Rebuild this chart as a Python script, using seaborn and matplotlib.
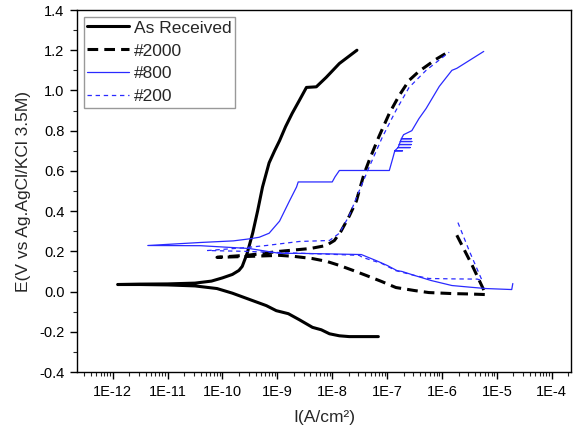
import numpy as np
import pandas as pd
import matplotlib
matplotlib.use("Agg")
import matplotlib.pyplot as plt
import seaborn as sns
from matplotlib.ticker import FixedLocator, FuncFormatter, LogLocator, MultipleLocator, NullFormatter

# polarization curves, current as log10(I / A cm^-2), potential E in V
ar_logI = [-7.16, -7.45, -7.69, -7.87, -8.05, -8.2, -8.36, -8.6, -8.8, -9.02, -9.2, -9.45,
           -9.82, -10.1, -10.5, -11.0, -11.5, -11.91,
           -11.5, -11.0, -10.5, -10.2, -10.0, -9.82, -9.7, -9.64, -9.55, -9.45, -9.36, -9.27,
           -9.15, -9.05, -8.96, -8.85, -8.73, -8.6, -8.47, -8.29, -8.11, -7.87, -7.55]
ar_E = [-0.224, -0.224, -0.224, -0.22, -0.21, -0.19, -0.178, -0.14, -0.11, -0.095, -0.07, -0.045,
        -0.008, 0.015, 0.028, 0.033, 0.035, 0.035,
        0.037, 0.038, 0.042, 0.052, 0.068, 0.085, 0.105, 0.125, 0.19, 0.29, 0.40, 0.52,
        0.64, 0.70, 0.75, 0.82, 0.886, 0.95, 1.015, 1.018, 1.065, 1.134, 1.2]

g2000_logI = [-5.73, -5.45, -5.2, -5.5, -5.82, -6.24, -6.5, -6.84, -7.1, -7.38, -7.62, -7.87,
              -8.1, -8.36, -8.7, -8.96, -9.5, -10.1,
              -9.5, -8.96, -8.4, -8.11, -7.96, -7.84, -7.69, -7.56, -7.51, -7.42, -7.33, -7.15,
              -6.96, -6.78, -6.6, -6.42, -6.29, -6.11, -5.87]
g2000_E = [0.28, 0.13, -0.015, -0.012, -0.01, -0.005, 0.005, 0.02, 0.05, 0.08, 0.105, 0.13,
           0.15, 0.164, 0.175, 0.18, 0.175, 0.17,
           0.182, 0.2, 0.214, 0.229, 0.254, 0.30, 0.375, 0.45, 0.50, 0.585, 0.65, 0.77,
           0.886, 0.975, 1.05, 1.095, 1.12, 1.155, 1.194]

g800_logI = [-4.71, -4.73, -5.2, -5.5, -5.82, -6.2, -6.5, -6.73, -6.82, -7.0, -7.2, -7.47,
             -8.0, -8.6, -8.96, -9.51, -10.4, -11.36,
             -10.4, -9.8, -9.51, -9.33, -9.15, -8.96, -8.78, -8.65, -8.62, -8.0, -7.95, -7.87,
             -6.96, -6.9, -6.86, -6.72, -6.86, -6.8, -6.58, -6.8, -6.78, -6.56, -6.78,
             -6.76, -6.55, -6.76, -6.74, -6.56, -6.74, -6.7,
             -6.55, -6.42, -6.29, -6.05, -5.82, -5.73, -5.24]
g800_E = [0.04, 0.01, 0.015, 0.022, 0.03, 0.055, 0.08, 0.1, 0.104, 0.13, 0.154, 0.184,
          0.187, 0.19, 0.19, 0.214, 0.228, 0.229,
          0.244, 0.252, 0.262, 0.27, 0.29, 0.35, 0.45, 0.52, 0.545, 0.545, 0.57, 0.602,
          0.602, 0.66, 0.70, 0.70, 0.70, 0.716, 0.716, 0.716, 0.731, 0.731, 0.731,
          0.746, 0.746, 0.746, 0.76, 0.76, 0.76, 0.78,
          0.80, 0.86, 0.91, 1.02, 1.1, 1.11, 1.194]

g200_logI = [-5.71, -5.5, -5.27, -5.36, -5.8, -6.24, -6.5, -6.84, -7.1, -7.45, -7.51, -8.0,
             -8.96, -9.6, -10.27,
             -9.6, -9.2, -8.6, -8.05, -7.87, -7.69, -7.51, -7.33, -7.09, -6.84, -6.6, -6.29, -5.87]
g200_E = [0.343, 0.2, 0.055, 0.062, 0.063, 0.065, 0.08, 0.104, 0.14, 0.17, 0.18, 0.185,
          0.194, 0.2, 0.204,
          0.218, 0.229, 0.249, 0.254, 0.29, 0.378, 0.50, 0.617, 0.766, 0.90, 1.015, 1.1, 1.19]

labels = ["As Received", "#2000", "#800", "#200"]
curves = [(ar_logI, ar_E), (g2000_logI, g2000_E), (g800_logI, g800_E), (g200_logI, g200_E)]
styles = [
    dict(color="black", lw=2.2, linestyle="-"),
    dict(color="black", lw=2.2, linestyle=(0, (3.5, 2.0))),
    dict(color="#2a2aff", lw=0.9, linestyle="-"),
    dict(color="#2a2aff", lw=0.9, linestyle=(0, (3.5, 3.0))),
]

sns.set_style("ticks")
plt.rcParams["font.family"] = ["Liberation Sans", "DejaVu Sans"]
plt.rcParams["axes.unicode_minus"] = False

fig = plt.figure(figsize=(5.73, 4.34), dpi=100)
ax = fig.add_axes([77 / 573, 62 / 434, 494 / 573, 362 / 434])

for name, (logI, E), st in zip(labels, curves, styles):
    df = pd.DataFrame({"I": np.power(10.0, logI), "E": E})
    sns.lineplot(data=df, x="I", y="E", ax=ax, sort=False, estimator=None,
                 label=name, **st)

ax.set_xscale("log")
ax.set_xlim(10 ** -12.65, 10 ** -3.65)
ax.set_ylim(-0.4, 1.4)

ax.xaxis.set_major_locator(FixedLocator([10.0 ** k for k in range(-12, -3)]))
ax.xaxis.set_major_formatter(FuncFormatter(lambda v, p: "1E%d" % round(np.log10(v))))
ax.xaxis.set_minor_locator(LogLocator(base=10, subs=np.arange(2, 10), numticks=30))
ax.xaxis.set_minor_formatter(NullFormatter())
ax.yaxis.set_major_locator(MultipleLocator(0.2))
ax.yaxis.set_minor_locator(MultipleLocator(0.1))
ax.yaxis.set_major_formatter(FuncFormatter(lambda v, p: "%.1f" % v))

ax.tick_params(which="major", direction="out", length=5, width=1, labelsize=10.5,
               pad=4, colors="black", top=False, right=False)
ax.tick_params(which="minor", direction="out", length=3, width=0.8, top=False, right=False)
for s in ax.spines.values():
    s.set_visible(True)
    s.set_color("black")
    s.set_linewidth(1.0)

ax.set_xlabel("I(A/cm²)", fontsize=12.5, labelpad=8)
ax.set_ylabel("E(V vs Ag.AgCl/KCl 3.5M)", fontsize=12.5, labelpad=6)

leg = ax.legend(loc="upper left", fontsize=12.5, frameon=True, fancybox=False,
                edgecolor="gray", handlelength=2.4, handletextpad=0.3,
                borderaxespad=0.4, labelspacing=0.45, borderpad=0.2)
leg.get_frame().set_linewidth(1.0)

fig.savefig("out.png", dpi=100)
